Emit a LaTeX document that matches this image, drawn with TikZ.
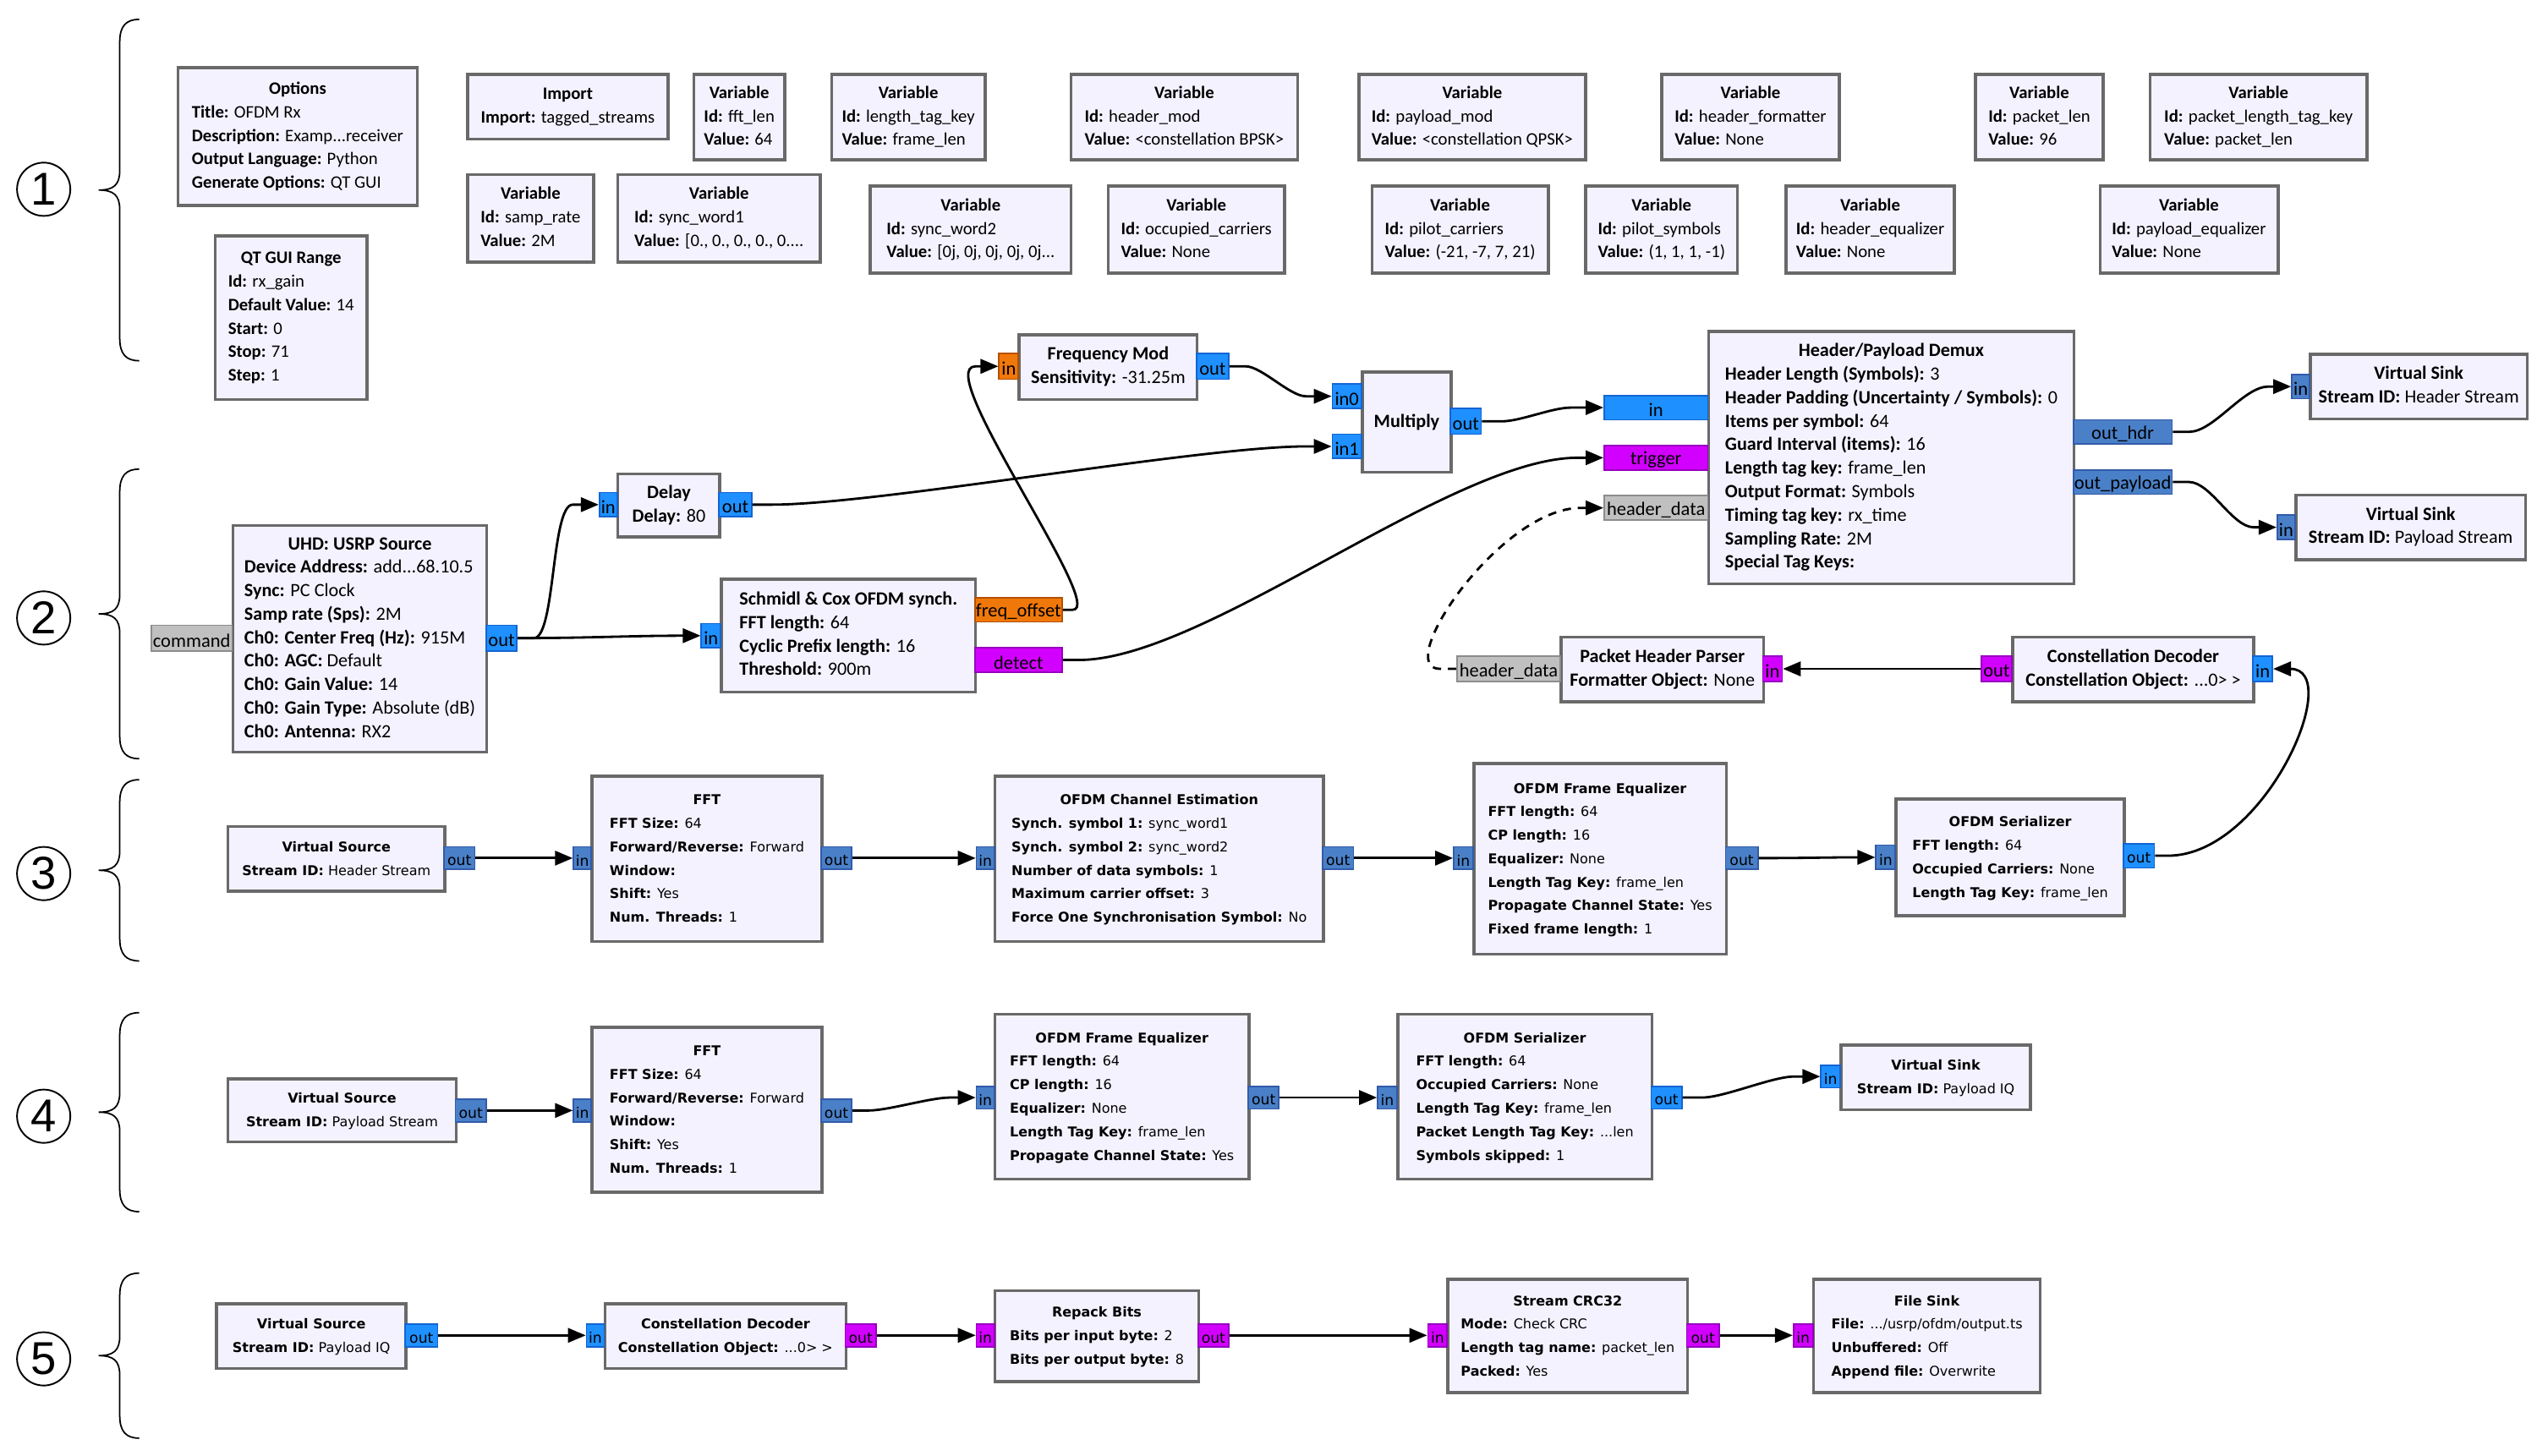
\documentclass[tikz,border=0pt]{standalone}
\usepackage{fontspec}
\setmainfont{Carlito}
\newfontfamily\dvs{DejaVu Sans}
\newfontfamily\lib{Liberation Sans}
\usetikzlibrary{arrows.meta,calc}
\definecolor{blkfill}{RGB}{245,242,255}
\definecolor{blkdraw}{RGB}{105,105,105}
\definecolor{pcx}{RGB}{30,144,255}
\definecolor{pcxd}{RGB}{20,100,210}
\definecolor{pvec}{RGB}{74,128,200}
\definecolor{pvecd}{RGB}{50,90,170}
\definecolor{pflt}{RGB}{240,120,10}
\definecolor{pfltd}{RGB}{180,80,0}
\definecolor{pbyte}{RGB}{210,0,255}
\definecolor{pbyted}{RGB}{150,0,190}
\definecolor{pmsg}{RGB}{192,192,192}
\definecolor{pmsgd}{RGB}{140,140,140}
\newcommand\bt[2]{\begin{tabular}{@{}l@{}}\multicolumn{1}{@{}c@{}}{\bfseries #1}\\#2\end{tabular}}
\newcommand\pk[2]{\textbf{#1:} #2}
\newcommand\vb[2]{\bt{Variable}{\pk{Id}{#1}\\\pk{Value}{#2}}}
\newcommand\pl[1]{\raisebox{-0.8pt}[\height][\depth]{#1}}
\newcommand\brc[2]{\draw[bracel] (86,#1) .. controls (78,#1) and (74,#1+4) .. (74,#1+14) -- (74,{(#1+#2)/2-12}) .. controls (74,{(#1+#2)/2-3}) and (70,{(#1+#2)/2}) .. (61,{(#1+#2)/2}) .. controls (70,{(#1+#2)/2}) and (74,{(#1+#2)/2+3}) .. (74,{(#1+#2)/2+12}) -- (74,#2-14) .. controls (74,#2-4) and (78,#2) .. (86,#2);}
\tikzset{
  blk/.style n args={4}{at={(#1,#2)}, anchor=north west, minimum width={(#3-#1)*0.19133mm}, minimum height={(#4-#2)*0.19133mm}, draw=blkdraw, fill=blkfill, line width=1pt, inner sep=0pt},
  prt/.style n args={4}{at={(#1,#2)}, anchor=north west, minimum width={(#3-#1)*0.19133mm}, minimum height={(#4-#2)*0.19133mm}, inner sep=0pt, line width=0.5pt},
  t1/.style={font=\fontsize{5.9}{7.9}\selectfont},
  t2/.style={font=\fontsize{6.3}{7.9}\selectfont},
  t3/.style={font=\dvs\fontsize{4.55}{7.9}\selectfont},
  pf2/.style={font=\fontsize{6.4}{6.4}\selectfont},
  pf3/.style={font=\dvs\fontsize{4.9}{4.9}\selectfont},
  cx/.style={fill=pcx, draw=pcxd},
  vec/.style={fill=pvec, draw=pvecd},
  flt/.style={fill=pflt, draw=pfltd},
  byt/.style={fill=pbyte, draw=pbyted},
  msg/.style={fill=pmsg, draw=pmsgd},
  wire/.style={line width=0.8pt, -{Triangle[length=2.1mm, width=1.7mm]}},
  bracel/.style={line width=0.5pt},
  circnum/.style={circle, draw, line width=0.55pt, minimum size=6.3mm, inner sep=0pt, font=\lib\fontsize{15.5}{15.5}\selectfont}
}
\begin{document}
\begin{tikzpicture}[x=0.19133mm, y=-0.19133mm]
\useasboundingbox (0,0) rectangle (1568,900);
% ---------- section markers
\node[circnum] (c1) at (27,117) {1};
\node[circnum] (c2) at (27,382) {2};
\node[circnum] (c3) at (27,540) {3};
\node[circnum] (c4) at (27,690) {4};
\node[circnum] (c5) at (27,840) {5};
\brc{12}{223}
\brc{290}{469}
\brc{482}{594}
\brc{626}{749}
\brc{787}{889}
% ---------- row 1
\node[blk={109}{41}{257}{126}, t1] (opt) {\bt{Options}{\pk{Title}{OFDM Rx}\\\pk{Description}{Examp...receiver}\\\pk{Output Language}{Python}\\\pk{Generate Options}{QT GUI}}};
\node[blk={132}{145}{226}{246}, t1] (qtr) {\bt{QT GUI Range}{\pk{Id}{rx\_gain}\\\pk{Default Value}{14}\\\pk{Start}{0}\\\pk{Stop}{71}\\\pk{Step}{1}}};
\node[blk={288}{45}{412}{85}, t1] (imp) {\bt{Import}{\pk{Import}{tagged\_streams}}};
\node[blk={428}{45}{484}{98}, t1] (vfft) {\vb{fft\_len}{64}};
\node[blk={288}{107}{366}{161}, t1] (vsr) {\vb{samp\_rate}{2M}};
\node[blk={381}{107}{506}{161}, t1] (vsw1) {\vb{sync\_word1}{[0., 0., 0., 0., 0....}};
\node[blk={513}{45}{608}{98}, t1] (vltk) {\vb{length\_tag\_key}{frame\_len}};
\node[blk={661}{45}{801}{98}, t1] (vhm) {\vb{header\_mod}{<constellation BPSK>}};
\node[blk={537}{114}{661}{168}, t1] (vsw2) {\vb{sync\_word2}{[0j, 0j, 0j, 0j, 0j...}};
\node[blk={684}{114}{793}{168}, t1] (voc) {\vb{occupied\_carriers}{None}};
\node[blk={839}{45}{979}{98}, t1] (vpm) {\vb{payload\_mod}{<constellation QPSK>}};
\node[blk={847}{114}{956}{168}, t1] (vpc) {\vb{pilot\_carriers}{(-21, -7, 7, 21)}};
\node[blk={1026}{45}{1136}{98}, t1] (vhf) {\vb{header\_formatter}{None}};
\node[blk={979}{114}{1073}{168}, t1] (vps) {\vb{pilot\_symbols}{(1, 1, 1, -1)}};
\node[blk={1103}{114}{1207}{168}, t1] (vhe) {\vb{header\_equalizer}{None}};
\node[blk={1220}{45}{1299}{98}, t1] (vpl) {\vb{packet\_len}{96}};
\node[blk={1328}{45}{1462}{98}, t1] (vpltk) {\vb{packet\_length\_tag\_key}{packet\_len}};
\node[blk={1297}{114}{1407}{168}, t1] (vpe) {\vb{payload\_equalizer}{None}};
% ---------- row 2
\node[blk={143}{324}{300}{464}, t2] (usrp) {\bt{UHD: USRP Source}{\pk{Device Address}{add...68.10.5}\\\pk{Sync}{PC Clock}\\\pk{Samp rate (Sps)}{2M}\\\pk{Ch0: Center Freq (Hz)}{915M}\\\pk{Ch0: AGC}{Default}\\\pk{Ch0: Gain Value}{14}\\\pk{Ch0: Gain Type}{Absolute (dB)}\\\pk{Ch0: Antenna}{RX2}}};
\node[prt={93}{386}{143}{402}, msg, pf2] (cmd) {\pl{command}};
\node[prt={300}{386}{319}{402}, cx, pf2] (uout) {\pl{out}};
\node[blk={381}{292}{444}{331}, t2] (delay) {\bt{Delay}{\pk{Delay}{80}}};
\node[prt={370}{304}{381}{319}, cx, pf2] (din) {\pl{in}};
\node[prt={444}{304}{464}{319}, cx, pf2] (dout) {\pl{out}};
\node[blk={445}{357}{602}{427}, t2] (sc) {\bt{Schmidl \& Cox OFDM synch.}{\pk{FFT length}{64}\\\pk{Cyclic Prefix length}{16}\\\pk{Threshold}{900m}}};
\node[prt={433}{385}{445}{400}, cx, pf2] (scin) {\pl{in}};
\node[prt={602}{369}{656}{384}, flt, pf2] (fo) {\pl{freq\_offset}};
\node[prt={602}{400}{656}{415}, byt, pf2] (det) {\pl{detect}};
\node[blk={629}{206}{739}{246}, t2] (fm) {\bt{Frequency Mod}{\pk{Sensitivity}{-31.25m}}};
\node[prt={617}{218}{629}{234}, flt, pf2] (fmin) {\pl{in}};
\node[prt={739}{218}{759}{234}, cx, pf2] (fmout) {\pl{out}};
\node[blk={841}{229}{896}{291}, t2] (mul) {\bfseries Multiply};
\node[prt={823}{237}{841}{252}, cx, pf2] (min0) {\pl{in0}};
\node[prt={823}{268}{841}{283}, cx, pf2] (min1) {\pl{in1}};
\node[prt={896}{252}{915}{268}, cx, pf2] (mout) {\pl{out}};
\node[blk={1055}{204}{1281}{360}, t2] (dm) {\bt{Header/Payload Demux}{\pk{Header Length (Symbols)}{3}\\\pk{Header Padding (Uncertainty / Symbols)}{0}\\\pk{Items per symbol}{64}\\\pk{Guard Interval (items)}{16}\\\pk{Length tag key}{frame\_len}\\\pk{Output Format}{Symbols}\\\pk{Timing tag key}{rx\_time}\\\pk{Sampling Rate}{2M}\\\pk{Special Tag Keys}{}}};
\node[prt={991}{244}{1055}{259}, cx, pf2] (dmin) {\pl{in}};
\node[prt={991}{275}{1055}{290}, byt, pf2] (dmtr) {\pl{trigger}};
\node[prt={991}{306}{1055}{321}, msg, pf2] (dmhd) {\pl{header\_data}};
\node[prt={1281}{259}{1342}{274}, vec, pf2] (dmoh) {\pl{out\_hdr}};
\node[prt={1281}{290}{1342}{305}, vec, pf2] (dmop) {\pl{out\_payload}};
\node[blk={1427}{218}{1561}{258}, t2] (vsh) {\bt{Virtual Sink}{\pk{Stream ID}{Header Stream}}};
\node[prt={1416}{231}{1427}{246}, vec, pf2] (vshin) {\pl{in}};
\node[blk={1418}{305}{1560}{345}, t2] (vsp) {\bt{Virtual Sink}{\pk{Stream ID}{Payload Stream}}};
\node[prt={1407}{318}{1418}{333}, vec, pf2] (vspin) {\pl{in}};
\node[blk={1243}{393}{1392}{433}, t2] (cd2) {\bt{Constellation Decoder}{\pk{Constellation Object}{...0> >}}};
\node[prt={1224}{405}{1243}{421}, byt, pf2] (cd2out) {\pl{out}};
\node[prt={1392}{405}{1404}{421}, cx, pf2] (cd2in) {\pl{in}};
\node[blk={964}{393}{1089}{433}, t2] (php) {\bt{Packet Header Parser}{\pk{Formatter Object}{None}}};
\node[prt={900}{405}{964}{421}, msg, pf2] (phphd) {\pl{header\_data}};
\node[prt={1089}{405}{1101}{421}, byt, pf2] (phpin) {\pl{in}};
% ---------- row 3
\node[blk={140}{510}{274}{550}, t3] (vs3) {\bt{Virtual Source}{\pk{Stream ID}{Header Stream}}};
\node[prt={274}{523}{293}{537}, vec, pf3] (vs3out) {\pl{out}};
\node[blk={365}{479}{507}{581}, t3] (fft3) {\bt{FFT}{\pk{FFT Size}{64}\\\pk{Forward/Reverse}{Forward}\\\pk{Window}{}\\\pk{Shift}{Yes}\\\pk{Num. Threads}{1}}};
\node[prt={354}{523}{365}{537}, vec, pf3] (fft3in) {\pl{in}};
\node[prt={507}{523}{526}{537}, vec, pf3] (fft3out) {\pl{out}};
\node[blk={614}{479}{817}{581}, t3] (ce) {\bt{OFDM Channel Estimation}{\pk{Synch. symbol 1}{sync\_word1}\\\pk{Synch. symbol 2}{sync\_word2}\\\pk{Number of data symbols}{1}\\\pk{Maximum carrier offset}{3}\\\pk{Force One Synchronisation Symbol}{No}}};
\node[prt={603}{523}{614}{537}, vec, pf3] (cein) {\pl{in}};
\node[prt={817}{523}{836}{537}, vec, pf3] (ceout) {\pl{out}};
\node[blk={910}{471}{1066}{589}, t3] (fe3) {\bt{OFDM Frame Equalizer}{\pk{FFT length}{64}\\\pk{CP length}{16}\\\pk{Equalizer}{None}\\\pk{Length Tag Key}{frame\_len}\\\pk{Propagate Channel State}{Yes}\\\pk{Fixed frame length}{1}}};
\node[prt={898}{523}{910}{537}, vec, pf3] (fe3in) {\pl{in}};
\node[prt={1066}{523}{1086}{537}, vec, pf3] (fe3out) {\pl{out}};
\node[blk={1171}{493}{1312}{565}, t3] (ser3) {\bt{OFDM Serializer}{\pk{FFT length}{64}\\\pk{Occupied Carriers}{None}\\\pk{Length Tag Key}{frame\_len}}};
\node[prt={1159}{522}{1171}{537}, vec, pf3] (ser3in) {\pl{in}};
\node[prt={1312}{521}{1331}{536}, cx, pf3] (ser3out) {\pl{out}};
% ---------- row 4
\node[blk={140}{666}{281}{705}, t3] (vs4) {\bt{Virtual Source}{\pk{Stream ID}{Payload Stream}}};
\node[prt={281}{679}{300}{693}, vec, pf3] (vs4out) {\pl{out}};
\node[blk={365}{634}{507}{736}, t3] (fft4) {\bt{FFT}{\pk{FFT Size}{64}\\\pk{Forward/Reverse}{Forward}\\\pk{Window}{}\\\pk{Shift}{Yes}\\\pk{Num. Threads}{1}}};
\node[prt={354}{679}{365}{693}, vec, pf3] (fft4in) {\pl{in}};
\node[prt={507}{679}{526}{693}, vec, pf3] (fft4out) {\pl{out}};
\node[blk={614}{626}{771}{728}, t3] (fe4) {\bt{OFDM Frame Equalizer}{\pk{FFT length}{64}\\\pk{CP length}{16}\\\pk{Equalizer}{None}\\\pk{Length Tag Key}{frame\_len}\\\pk{Propagate Channel State}{Yes}}};
\node[prt={603}{671}{614}{685}, vec, pf3] (fe4in) {\pl{in}};
\node[prt={771}{671}{790}{685}, vec, pf3] (fe4out) {\pl{out}};
\node[blk={863}{626}{1020}{728}, t3] (ser4) {\bt{OFDM Serializer}{\pk{FFT length}{64}\\\pk{Occupied Carriers}{None}\\\pk{Length Tag Key}{frame\_len}\\\pk{Packet Length Tag Key}{...len}\\\pk{Symbols skipped}{1}}};
\node[prt={851}{671}{863}{685}, vec, pf3] (ser4in) {\pl{in}};
\node[prt={1020}{671}{1039}{685}, cx, pf3] (ser4out) {\pl{out}};
\node[blk={1137}{645}{1254}{685}, t3] (vsk4) {\bt{Virtual Sink}{\pk{Stream ID}{Payload IQ}}};
\node[prt={1125}{658}{1137}{672}, cx, pf3] (vsk4in) {\pl{in}};
% ---------- row 5
\node[blk={133}{805}{250}{845}, t3] (vs5) {\bt{Virtual Source}{\pk{Stream ID}{Payload IQ}}};
\node[prt={250}{818}{270}{832}, cx, pf3] (vs5out) {\pl{out}};
\node[blk={373}{805}{522}{845}, t3] (cd5) {\bt{Constellation Decoder}{\pk{Constellation Object}{...0> >}}};
\node[prt={362}{818}{373}{832}, cx, pf3] (cd5in) {\pl{in}};
\node[prt={522}{818}{541}{832}, byt, pf3] (cd5out) {\pl{out}};
\node[blk={614}{797}{740}{853}, t3] (rp) {\bt{Repack Bits}{\pk{Bits per input byte}{2}\\\pk{Bits per output byte}{8}}};
\node[prt={603}{818}{614}{832}, byt, pf3] (rpin) {\pl{in}};
\node[prt={740}{818}{759}{832}, byt, pf3] (rpout) {\pl{out}};
\node[blk={894}{790}{1042}{860}, t3] (crc) {\bt{Stream CRC32}{\pk{Mode}{Check CRC}\\\pk{Length tag name}{packet\_len}\\\pk{Packed}{Yes}}};
\node[prt={882}{818}{894}{832}, byt, pf3] (crcin) {\pl{in}};
\node[prt={1042}{818}{1062}{832}, byt, pf3] (crcout) {\pl{out}};
\node[blk={1120}{790}{1260}{860}, t3] (fs) {\bt{File Sink}{\pk{File}{.../usrp/ofdm/output.ts}\\\pk{Unbuffered}{Off}\\\pk{Append file}{Overwrite}}};
\node[prt={1108}{818}{1120}{832}, byt, pf3] (fsin) {\pl{in}};
% ---------- connectors row 2
\draw[wire] (uout.east) -- ++(10,0) to[out=0,in=180,looseness=0.4] ($(din.west)+(-16,0)$) -- (din.west);
\draw[wire] (uout.east) to[out=0,in=180] (scin.west);
\draw[wire] (dout.east) -- ++(12,0) to[out=0,in=180,looseness=0.5] ($(min1.west)+(-16,0)$) -- (min1.west);
\draw[wire] (fo.east) -- ++(6,0) .. controls +(22,0) and +(-28,0) .. ($(fmin.west)+(-14,0)$) -- (fmin.west);
\draw[wire] (fmout.east) -- ++(10,0) to[out=0,in=180,looseness=0.6] ($(min0.west)+(-16,0)$) -- (min0.west);
\draw[wire] (det.east) -- ++(10,0) to[out=0,in=180,looseness=0.6] ($(dmtr.west)+(-16,0)$) -- (dmtr.west);
\draw[wire] (mout.east) -- ++(12,0) to[out=0,in=180,looseness=0.7] ($(dmin.west)+(-20,0)$) -- (dmin.west);
\draw[wire] (dmoh.east) -- ++(10,0) to[out=0,in=180,looseness=0.7] ($(vshin.west)+(-14,0)$) -- (vshin.west);
\draw[wire] (dmop.east) -- ++(10,0) to[out=0,in=180,looseness=0.7] ($(vspin.west)+(-14,0)$) -- (vspin.west);
\draw[wire] (ser3out.east) -- ++(8,0) .. controls +(60,0) and +(45,0) .. (cd2in.east);
\draw[wire] (cd2out.west) -- (phpin.east);
\draw[wire, dash pattern=on 2.8pt off 2.3pt] (phphd.west) -- ++(-10,0) .. controls +(-30,0) and +(-50,0) .. ($(dmhd.west)+(-14,0)$) -- (dmhd.west);
% ---------- connectors rows 3-5
\draw[wire] (vs3out.east) -- (fft3in.west);
\draw[wire] (fft3out.east) -- (cein.west);
\draw[wire] (ceout.east) -- (fe3in.west);
\draw[wire] (fe3out.east) to[out=0,in=180] (ser3in.west);
\draw[wire] (vs4out.east) -- (fft4in.west);
\draw[wire] (fft4out.east) -- ++(10,0) to[out=0,in=180,looseness=0.6] ($(fe4in.west)+(-16,0)$) -- (fe4in.west);
\draw[wire] (fe4out.east) -- (ser4in.west);
\draw[wire] (ser4out.east) -- ++(12,0) to[out=0,in=180,looseness=0.6] ($(vsk4in.west)+(-16,0)$) -- (vsk4in.west);
\draw[wire] (vs5out.east) -- (cd5in.west);
\draw[wire] (cd5out.east) -- (rpin.west);
\draw[wire] (rpout.east) -- (crcin.west);
\draw[wire] (crcout.east) -- (fsin.west);
\end{tikzpicture}
\end{document}
